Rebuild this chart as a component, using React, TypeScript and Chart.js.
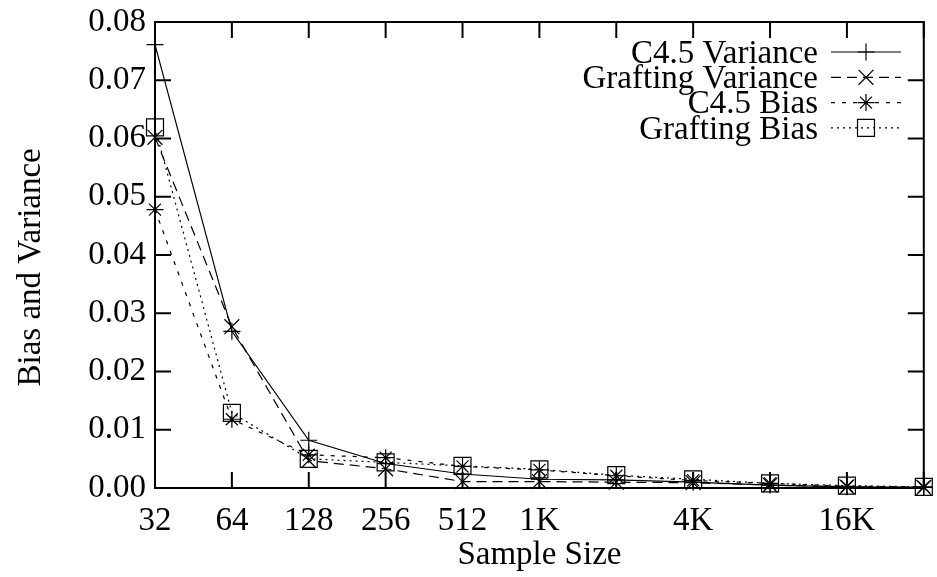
import React, { useEffect, useRef } from 'react';
import { Chart, registerables } from 'chart.js';

Chart.register(...registerables);

// ---- data ----
const sampleSizes = [32, 64, 128, 256, 512, 1024, 2048, 4096, 8192, 16384, 32768];
const xTickLabels = ['32', '64', '128', '256', '512', '1K', '', '4K', '', '16K', ''];
const seriesNames = ['C4.5 Variance', 'Grafting Variance', 'C4.5 Bias', 'Grafting Bias'];
const c45Variance = [0.0761, 0.0269, 0.0082, 0.0042, 0.0024, 0.0015, 0.0014, 0.0010, 0.0005, 0.0002, 0.0001];
const graftingVariance = [0.0602, 0.0277, 0.0047, 0.0033, 0.0011, 0.0011, 0.0010, 0.0009, 0.0005, 0.0002, 0.0001];
const c45Bias = [0.0478, 0.0118, 0.0057, 0.0052, 0.0037, 0.0031, 0.0021, 0.0013, 0.0008, 0.0003, 0.0002];
const graftingBias = [0.0619, 0.0129, 0.0050, 0.0044, 0.0038, 0.0032, 0.0022, 0.0015, 0.0008, 0.0004, 0.0002];
const yMin = 0;
const yMax = 0.08;
const yStep = 0.01;

const FONT = "'Liberation Serif', 'Times New Roman', serif";
const FS = 33;

const seriesValues = [c45Variance, graftingVariance, c45Bias, graftingBias];
const seriesDash = [[], [10, 6], [4, 7], [2, 4]];
const seriesPoint = ['cross', 'crossRot', 'star', 'rect'];
const seriesRadius = [8.5, 10.5, 8.5, 12];

function drawMarker(ctx: CanvasRenderingContext2D, style: string, x: number, y: number, r: number) {
  ctx.beginPath();
  if (style === 'cross' || style === 'star') {
    ctx.moveTo(x - r, y); ctx.lineTo(x + r, y);
    ctx.moveTo(x, y - r); ctx.lineTo(x, y + r);
  }
  if (style === 'crossRot' || style === 'star') {
    const d = r * Math.SQRT1_2;
    ctx.moveTo(x - d, y - d); ctx.lineTo(x + d, y + d);
    ctx.moveTo(x - d, y + d); ctx.lineTo(x + d, y - d);
  }
  if (style === 'rect') {
    const s = r * Math.SQRT1_2;
    ctx.rect(x - s, y - s, 2 * s, 2 * s);
  }
  ctx.stroke();
}

const framePlugin = {
  id: 'gnuFrame',
  afterDraw(chart: any) {
    const { ctx, chartArea } = chart;
    const { left, right, top, bottom } = chartArea;
    const xs = chart.scales.x;
    const ys = chart.scales.y;
    ctx.save();
    ctx.strokeStyle = '#000';
    ctx.lineWidth = 2;
    ctx.setLineDash([]);
    ctx.strokeRect(left, top, right - left, bottom - top);
    const L = 16;
    ctx.beginPath();
    xs.ticks.forEach((t: any) => {
      const px = xs.getPixelForValue(t.value);
      ctx.moveTo(px, bottom); ctx.lineTo(px, bottom - L);
      ctx.moveTo(px, top); ctx.lineTo(px, top + L);
    });
    ys.ticks.forEach((t: any) => {
      const py = ys.getPixelForValue(t.value);
      ctx.moveTo(left, py); ctx.lineTo(left + L, py);
      ctx.moveTo(right, py); ctx.lineTo(right - L, py);
    });
    ctx.stroke();

    // legend (gnuplot style: right-aligned text, then line sample with marker)
    const textRight = 818;
    const lineX0 = 831;
    const lineX1 = 901;
    const markX = 866;
    const rowY0 = 52;
    const rowGap = 25.3;
    ctx.font = `${FS}px ${FONT}`;
    ctx.fillStyle = '#000';
    ctx.textAlign = 'right';
    ctx.textBaseline = 'middle';
    chart.data.datasets.forEach((ds: any, i: number) => {
      const yy = rowY0 + i * rowGap;
      ctx.fillText(ds.label, textRight, yy + 2);
      ctx.lineWidth = 1.2;
      ctx.setLineDash(ds.borderDash || []);
      ctx.beginPath();
      ctx.moveTo(lineX0, yy); ctx.lineTo(lineX1, yy);
      ctx.stroke();
      ctx.setLineDash([]);
      drawMarker(ctx, ds.pointStyle, markX, yy, ds.pointRadius);
    });
    ctx.restore();
  },
};

export default function App() {
  const ref = useRef<HTMLCanvasElement | null>(null);
  useEffect(() => {
    if (!ref.current) return;
    const datasets = seriesNames.map((name, i) => ({
      label: name,
      data: sampleSizes.map((s, j) => ({ x: s, y: seriesValues[i][j] })),
      borderColor: '#000',
      backgroundColor: 'rgba(0,0,0,0)',
      borderWidth: 1.2,
      borderDash: seriesDash[i],
      pointStyle: seriesPoint[i],
      pointRadius: seriesRadius[i],
      pointBorderWidth: 1.2,
      pointBorderColor: '#000',
      pointBackgroundColor: 'rgba(0,0,0,0)',
      tension: 0,
      fill: false,
      clip: false,
    }));
    const chart = new Chart(ref.current, {
      type: 'line',
      data: { datasets },
      options: {
        responsive: false,
        animation: false,
        events: [],
        layout: { padding: { left: 0, right: 10, top: 22, bottom: 0 } },
        plugins: { legend: { display: false }, tooltip: { enabled: false } },
        scales: {
          x: {
            type: 'logarithmic',
            position: 'bottom',
            min: sampleSizes[0],
            max: sampleSizes[sampleSizes.length - 1],
            afterBuildTicks: (s: any) => {
              s.ticks = sampleSizes.map((v) => ({ value: v }));
            },
            afterFit: (s: any) => {
              s.height = 89;
              s.paddingLeft = 0;
              s.paddingRight = 0;
            },
            ticks: {
              autoSkip: false,
              maxRotation: 0,
              minRotation: 0,
              padding: 14,
              color: '#000',
              font: { family: FONT, size: FS },
              callback: (_v: any, i: number) => xTickLabels[i],
            },
            grid: { display: false, drawTicks: false },
            border: { display: false },
            title: {
              display: true,
              text: 'Sample Size',
              color: '#000',
              font: { family: FONT, size: FS },
              padding: { top: 0, bottom: 2 },
            },
          },
          y: {
            type: 'linear',
            min: yMin,
            max: yMax,
            afterFit: (s: any) => {
              s.width = 155;
              s.paddingTop = 0;
              s.paddingBottom = 0;
            },
            ticks: {
              stepSize: yStep,
              padding: 9,
              color: '#000',
              font: { family: FONT, size: FS },
              callback: (v: any) => Number(v).toFixed(2),
            },
            grid: { display: false, drawTicks: false },
            border: { display: false },
            title: {
              display: true,
              text: 'Bias and Variance\u00a0\u00a0\u00a0',
              color: '#000',
              font: { family: FONT, size: FS },
              padding: { top: 12, bottom: 0 },
            },
          },
        },
      },
      plugins: [framePlugin],
    } as any);
    return () => chart.destroy();
  }, []);
  return (
    <div style={{ position: 'absolute', left: 0, top: 0, width: 937, height: 577, background: '#fff' }}>
      <canvas ref={ref} width={937} height={577} style={{ display: 'block' }} />
    </div>
  );
}
